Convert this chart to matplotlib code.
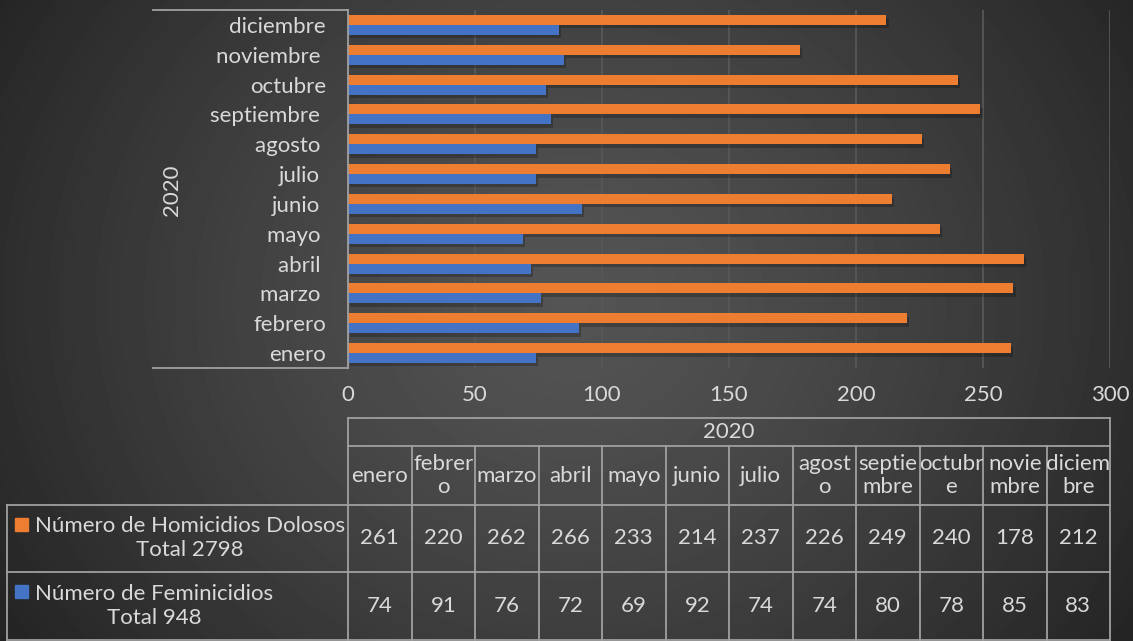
import numpy as np
import matplotlib
matplotlib.use('Agg')
import matplotlib.pyplot as plt
import matplotlib.patheffects as pe
from matplotlib.patches import Rectangle
from matplotlib.transforms import blended_transform_factory

# ---------------- data ----------------
months = ['enero', 'febrero', 'marzo', 'abril', 'mayo', 'junio', 'julio',
          'agosto', 'septiembre', 'octubre', 'noviembre', 'diciembre']
axis_labels = ['enero', 'febrero', 'marzo ', 'abril ', 'mayo ', 'junio ', 'julio ',
               'agosto ', 'septiembre ', 'octubre', 'noviembre ', 'diciembre']
table_labels = ['enero', 'febrer\no', 'marzo', 'abril', 'mayo', 'junio', 'julio',
                'agost\no', 'septie\nmbre', 'octubr\ne', 'novie\nmbre', 'diciem\nbre']
homicidios = [261, 220, 262, 266, 233, 214, 237, 226, 249, 240, 178, 212]
feminicidios = [74, 91, 76, 72, 69, 92, 74, 74, 80, 78, 85, 83]
year = '2020'
series_names = ['Número de Homicidios Dolosos', 'Número de Feminicidios']
totals = [2798, 948]
xticks = [0, 50, 100, 150, 200, 250, 300]

plt.rcParams['font.family'] = ['Lato', 'DejaVu Sans']
FS = 16
TXT = '#d9d9d9'
LINE = '#a0a0a0'
ORANGE = '#ED7D31'
BLUE = '#4472C4'

W, H = 1133, 641
fig = plt.figure(figsize=(W / 100, H / 100), dpi=100)

# ---------------- background (radial gradient) ----------------
bg = fig.add_axes([0, 0, 1, 1], zorder=-10)
yy, xx = np.mgrid[0:H, 0:W]
r = np.sqrt((xx - 570.0) ** 2 + ((yy - 300.0) / 0.9) ** 2)
t = np.clip(r / 680.0, 0, 1)
val = 0.33 - (0.33 - 0.14) * t ** 1.3
bg.imshow(val, cmap='gray', vmin=0, vmax=1, extent=[0, W, H, 0],
          aspect='auto', interpolation='bilinear')
bg.set_xlim(0, W)
bg.set_ylim(H, 0)
bg.axis('off')

# ---------------- main bar axes ----------------
ax = fig.add_axes([348 / W, 1 - 368 / H, (1110 - 348) / W, (368 - 10) / H])
ax.patch.set_alpha(0)
y = np.arange(len(months))
h = 0.333
shadow = [pe.SimplePatchShadow(offset=(1.5, -2.5), shadow_rgbFace='black', alpha=0.22), pe.Normal()]
b1 = ax.barh(y + h / 2, homicidios, height=h, color=ORANGE, zorder=3)
b2 = ax.barh(y - h / 2, feminicidios, height=h, color=BLUE, zorder=3)
for bar in list(b1) + list(b2):
    bar.set_path_effects(shadow)

ax.set_xlim(0, 300)
ax.set_ylim(-0.5, len(months) - 0.5)
ax.set_xticks(xticks)
ax.set_xticklabels([str(v) for v in xticks], color=TXT, fontsize=FS)
ax.set_yticks(y)
ax.set_yticklabels(axis_labels, color=TXT, fontsize=FS)
ax.tick_params(axis='both', length=0)
ax.tick_params(axis='y', pad=16)
ax.tick_params(axis='x', pad=12)
for v in xticks[1:]:
    ax.axvline(v, color='#575757', lw=1.3, zorder=1)
for s in ['top', 'right', 'bottom']:
    ax.spines[s].set_visible(False)
ax.spines['left'].set_color(LINE)
ax.spines['left'].set_linewidth(1.3)
ax.spines['left'].set_zorder(4)

# ---------------- overlay (pixel coords) ----------------
ov = fig.add_axes([0, 0, 1, 1], zorder=5)
ov.patch.set_alpha(0)
ov.set_xlim(0, W)
ov.set_ylim(H, 0)
ov.axis('off')
lw = 1.3

# category axis box lines
ov.plot([153, 348], [10, 10], color=LINE, lw=lw)
ov.plot([153, 348], [368, 368], color=LINE, lw=lw)
ov.text(172, 190, year, rotation=90, ha='center', va='center', color=TXT, fontsize=FS)

# ---------------- data table ----------------
bt = blended_transform_factory(ax.transData, ov.transData)
ncol = len(months)
cw = 300 / ncol
rows = [418, 446, 505, 572, 640]

for yv in rows:
    ov.plot([0, 300], [yv, yv], color=LINE, lw=lw, transform=bt)
ov.plot([0, 0], [418, 640], color=LINE, lw=lw, transform=bt)
ov.plot([300, 300], [418, 640], color=LINE, lw=lw, transform=bt)
for i in range(1, ncol):
    ov.plot([i * cw, i * cw], [446, 640], color=LINE, lw=lw, transform=bt)

ov.text(150, (418 + 446) / 2, year, transform=bt, ha='center', va='center',
        color=TXT, fontsize=FS)
for i, lab in enumerate(table_labels):
    cx = i * cw + cw / 2
    ov.text(cx, (446 + 505) / 2, lab, transform=bt, ha='center', va='center',
            color=TXT, fontsize=FS, linespacing=1.2)
    ov.text(cx, (505 + 572) / 2, str(homicidios[i]), transform=bt, ha='center',
            va='center', color=TXT, fontsize=FS)
    ov.text(cx, (572 + 640) / 2, str(feminicidios[i]), transform=bt, ha='center',
            va='center', color=TXT, fontsize=FS)

# legend column
for yv in [505, 572, 640]:
    ov.plot([7, 348], [yv, yv], color=LINE, lw=lw)
ov.plot([7, 7], [505, 640], color=LINE, lw=lw)
for k, (name, tot, col) in enumerate(zip(series_names, totals, [ORANGE, BLUE])):
    top, bot = rows[2 + k], rows[3 + k]
    cy = (top + bot) / 2
    ov.add_patch(Rectangle((15, cy - 21), 13, 13, color=col))
    ov.text(35, cy, f'{name}\nTotal {tot}', ha='left', va='center', multialignment='center',
            color=TXT, fontsize=FS, linespacing=1.25)

fig.savefig('out.png', dpi=100, facecolor='#333333')
